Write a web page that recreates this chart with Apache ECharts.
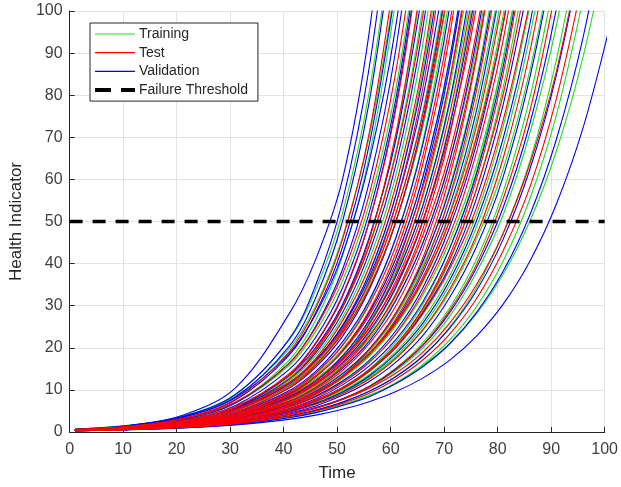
<!DOCTYPE html>
<html>
<head>
<meta charset="utf-8">
<script src="https://cdn.jsdelivr.net/npm/echarts@6/dist/echarts.min.js"></script>
<style>
html,body{margin:0;padding:0;background:#fff;}
#chart{width:621px;height:487px;}
</style>
</head>
<body>
<div id="chart"></div>
<script>
// Sample times shared by all curves (each curve stops after it passes 100)
const TIME = [1, 11, 21, 31, 41, 46, 51, 56, 61, 66, 71, 76, 81, 86, 91, 96, 101];
const X_TICKS = [0, 10, 20, 30, 40, 50, 60, 70, 80, 90, 100];
const Y_TICKS = [0, 10, 20, 30, 40, 50, 60, 70, 80, 90, 100];
const THRESHOLD = 50;

const TRAINING = [
  [0.65,1.57,3.75,9,21.8,33.8,52,80.8,125],
  [0.68,1.59,3.7,8.5,19.7,30,46.2,70.2,107],
  [0.47,1.14,2.8,6.9,17,26.6,41.8,65.5,103],
  [0.58,1.33,3,6.9,15.8,23.9,35.9,54.2,81.6,124],
  [0.42,0.99,2.32,5.4,12.8,19.5,30,45.7,70.2,108],
  [0.48,1.1,2.49,5.6,12.8,19.3,29.4,44.3,66.8,100.7,152],
  [0.47,1.06,2.39,5.4,12.1,18.2,27.2,40.9,61.1,92,137],
  [0.4,0.92,2.1,4.8,10.9,16.5,24.8,37.4,56.4,85.8,129],
  [0.52,1.12,2.42,5.2,11.2,16.5,24.1,35.2,52,76.1,112],
  [0.57,1.19,2.52,5.3,11.3,16.3,23.6,34.5,50,72.4,106],
  [0.38,0.85,1.88,4.2,9.3,13.9,20.7,30.9,46.2,68.9,103],
  [0.49,1.02,2.14,4.5,9.4,13.6,19.7,28.6,41.3,60.5,87.5,127],
  [0.42,0.89,1.88,4,8.5,12.4,18,26.4,38.6,55.8,81.6,119],
  [0.48,0.99,2.06,4.2,8.8,12.6,18,26.1,37.4,53.6,77.6,111],
  [0.35,0.76,1.62,3.5,7.4,10.9,16,23.4,34.2,50,73.1,107],
  [0.46,0.93,1.88,3.8,7.7,10.9,15.7,22.2,31.6,44.8,64.2,91.1,129],
  [0.34,0.71,1.47,3.1,6.4,9.2,13.3,19.1,27.7,40.1,58.1,83.3,121],
  [0.45,0.89,1.77,3.5,7,9.9,14,19.7,27.7,39.3,55.3,78.4,110],
  [0.38,0.77,1.56,3.1,6.3,9,12.7,18,25.6,36.3,52,73.9,105],
  [0.43,0.85,1.69,3.3,6.6,9.1,12.8,18,25.3,35.6,50,70.2,98.7,139],
  [0.43,0.83,1.62,3.2,6.1,8.6,12,16.6,23.2,32.5,45.2,63,88.5,123],
  [0.3,0.61,1.25,2.54,5.2,7.3,10.5,14.9,21.4,30.3,43.5,61.6,88.5,125],
  [0.31,0.63,1.25,2.5,5,7.1,10.1,14.3,20.3,28.6,40.5,57.5,81.6,116],
  [0.35,0.68,1.34,2.6,5.1,7,9.8,13.6,19.1,26.6,37,51.5,72.4,101],
  [0.35,0.67,1.3,2.5,4.8,6.7,9.3,13,18,25.1,34.9,48.5,67.5,93.9,129],
  [0.4,0.75,1.41,2.65,5,6.8,9.4,12.8,17.7,24.1,33.2,45.7,62.3,85.8,117],
  [0.29,0.56,1.09,2.1,4.1,5.7,7.9,10.9,15.2,21.2,29.4,40.9,56.9,79.3,110],
  [0.33,0.62,1.16,2.19,4.1,5.7,7.8,10.6,14.6,19.9,27.4,37.8,51.5,70.9,96.7,133],
  [0.29,0.55,1.04,1.96,3.7,5.1,7,9.6,13.2,18,24.8,34.2,47.1,64.2,88.5,122],
  [0.28,0.53,0.98,1.82,3.4,4.6,6.3,8.6,11.7,16,21.8,29.7,40.5,55.3,75.4,103],
  [0.35,0.63,1.14,2.04,3.6,4.9,6.5,8.7,11.6,15.7,20.9,28,37.4,50,66.8,89.3,119]
];

const TEST = [
  [0.55,1.33,3.2,7.8,19,29.4,45.7,71,111],
  [0.59,1.36,3.1,7.1,16.3,24.8,37.4,56.4,85.8,129],
  [0.43,1.03,2.44,5.8,13.8,21.2,32.5,50,76.8,118],
  [0.39,0.93,2.2,5.2,12.5,19.3,29.7,45.7,71,109],
  [0.56,1.23,2.72,6.1,13.4,19.9,29.7,44.3,66.1,98.7,147],
  [0.47,1.04,2.34,5.2,11.7,17.5,26.4,39.3,58.7,87.5,132],
  [0.4,0.9,2.04,4.6,10.5,15.8,23.9,35.9,54.2,81.6,123],
  [0.57,1.21,2.57,5.4,11.6,16.8,24.5,35.6,52,75.4,110],
  [0.52,1.11,2.37,5.1,10.9,16,23.4,34.2,50,73.1,107],
  [0.43,0.94,2.04,4.4,9.5,14,20.5,30.3,44.3,65.5,96.7,141],
  [0.37,0.82,1.81,4,8.8,13.1,19.3,28.8,42.6,63.6,93.9,140],
  [0.49,1.01,2.12,4.4,9.2,13.3,19.1,27.7,40.1,58.1,83.3,121],
  [0.33,0.73,1.6,3.5,7.8,11.6,17.2,25.6,37.8,56.4,83.3,124],
  [0.41,0.87,1.82,3.8,8.1,11.7,17,24.6,35.9,52,75.4,109],
  [0.52,1.04,2.12,4.3,8.6,12.2,17.5,24.8,35.2,50,71,100.7,143],
  [0.35,0.75,1.6,3.4,7.3,10.6,15.5,22.7,32.9,48.1,70.2,103],
  [0.46,0.94,1.92,3.9,7.9,11.3,16.2,22.9,32.5,46.6,66.2,94.8,135],
  [0.4,0.81,1.67,3.4,7.1,10.2,14.6,21,30,43.5,62.3,89.3,128],
  [0.31,0.65,1.39,2.95,6.3,9.1,13.3,19.5,28.3,41.3,60.5,88.5,128],
  [0.33,0.69,1.44,3,6.2,8.9,13,18.6,26.9,38.6,55.8,80.8,116],
  [0.44,0.87,1.72,3.4,6.7,9.4,13.2,18.6,26.1,36.7,51.5,72.4,103],
  [0.48,0.93,1.81,3.5,6.8,9.5,13.2,18.4,25.8,35.9,50,69.6,96.7,136],
  [0.37,0.74,1.48,2.95,5.9,8.3,11.7,16.5,23.4,33.2,46.6,66.2,92.9,132],
  [0.31,0.63,1.26,2.54,5.1,7.3,10.3,14.6,20.7,29.4,41.8,59.9,84.9,121],
  [0.36,0.71,1.39,2.73,5.4,7.6,10.6,14.8,20.7,29.1,40.9,57.5,80,112],
  [0.41,0.79,1.51,2.86,5.5,7.6,10.5,14.6,20.1,28,38.6,53.1,73.9,102],
  [0.34,0.67,1.27,2.46,4.7,6.6,9.1,12.6,17.5,24.3,33.8,46.6,64.9,90.2,125],
  [0.3,0.58,1.11,2.12,4.1,5.6,7.8,10.8,15.1,20.7,28.8,39.7,55.3,76.1,106],
  [0.38,0.69,1.26,2.3,4.2,5.7,7.7,10.4,14,18.9,25.8,34.9,47.1,63.6,85.8,117],
  [0.31,0.58,1.08,2,3.7,5,6.8,9.2,12.6,17.1,23.2,31.6,43,58.1,79.3,108]
];

const VALIDATION = [
  [0.6,1.5,3.9,10.5,28,41,60,95,150],
  [0.58,1.44,3.6,8.9,22,34.9,54.8,86.6,136],
  [0.56,1.38,3.4,8.3,20.3,31.9,50,78.4,123],
  [0.54,1.3,3.1,7.6,18.2,28.3,43.9,68.2,106],
  [0.67,1.54,3.5,8.1,18.6,28,42.2,64.2,96.7,147],
  [0.52,1.23,2.9,6.9,16.3,25.1,38.6,59.3,91.1,140],
  [0.51,1.18,2.7,6.3,14.8,22.5,34.2,52.1,79.3,122],
  [0.41,0.99,2.37,5.6,13.5,21,32.2,50,77.6,119],
  [0.49,1.12,2.5,5.8,13.3,20.1,30.3,46.2,69.5,105],
  [0.48,1.08,2.44,5.5,12.5,18.8,28.3,42.6,63.6,95.8,144],
  [0.46,1.03,2.3,5.1,11.4,17,25.3,37.8,56.4,84.1,125],
  [0.55,1.19,2.54,5.4,11.7,17.1,25.1,36.7,54.2,79.3,116],
  [0.45,0.98,2.16,4.7,10.4,15.4,22.7,33.8,50,73.9,110],
  [0.44,0.95,2.06,4.5,9.8,14.4,21.4,31.3,46.2,68.2,100.7,149],
  [0.42,0.91,1.96,4.2,9,13.1,19.3,28.3,41.3,60.5,88.5,129],
  [0.35,0.77,1.7,3.7,8.2,12.1,18,26.6,39.3,58.7,86.6,128],
  [0.42,0.88,1.86,3.9,8.3,12.1,17.5,25.6,37,53.7,78.4,114],
  [0.41,0.86,1.79,3.75,7.9,11.4,16.5,23.9,34.5,50,72.4,105],
  [0.4,0.82,1.7,3.5,7.3,10.5,15.1,21.6,31.3,44.8,64.2,92.9,133],
  [0.39,0.8,1.62,3.3,6.8,9.7,13.8,19.7,28.3,40.5,57.5,82.4,118],
  [0.38,0.77,1.57,3.2,6.4,9.1,13.1,18.6,26.4,37.8,53.6,76.1,109],
  [0.37,0.75,1.5,3,6,8.5,12.1,17,24.1,34.2,48.5,68.2,96.7,137],
  [0.37,0.73,1.44,2.83,5.6,7.9,11.2,15.7,22,30.9,43.5,61.1,86.6,122],
  [0.36,0.7,1.37,2.7,5.3,7.3,10.3,14.5,20.1,28.3,39.3,55.3,77.6,108],
  [0.35,0.68,1.31,2.54,4.9,6.8,9.5,13.3,18.6,25.8,35.9,50,69.6,96.7,135],
  [0.34,0.65,1.24,2.37,4.5,6.2,8.7,12,16.6,22.9,31.9,43.9,60.5,84.1,116],
  [0.33,0.62,1.18,2.21,4.2,5.8,7.9,10.8,14.9,20.5,28.3,38.9,53.2,73.1,100.7,139],
  [0.32,0.6,1.11,2.06,3.8,5.2,7.1,9.7,13.2,18,24.6,33.5,45.7,62.3,84.9,116],
  [0.31,0.57,1.03,1.88,3.4,4.6,6.3,8.4,11.5,15.5,20.9,28.3,38.1,51.5,69.6,93.9,127],
  [0.3,0.53,0.94,1.68,3,4,5.4,7.2,9.6,12.8,17,22.7,30.3,40.5,54.2,72.4,96.7]
];

const GROUPS = [
  { name: 'Training', color: '#1fdc1f', curves: TRAINING },
  { name: 'Validation', color: '#0000ff', curves: VALIDATION },
  { name: 'Test', color: '#ff0000', curves: TEST }
];

const FONT = "'Liberation Sans', Arial, Helvetica, sans-serif";
const AXIS_COLOR = '#262626';
const LABEL_COLOR = '#404040';

const series = [];
GROUPS.forEach(g => {
  g.curves.forEach(vals => {
    series.push({
      name: g.name,
      type: 'line',
      data: vals.map((v, i) => [TIME[i], v]),
      showSymbol: false,
      symbol: 'none',
      smooth: 0.35,
      clip: true,
      silent: true,
      lineStyle: { color: g.color, width: 1.1 },
      itemStyle: { color: g.color },
      emphasis: { disabled: true }
    });
  });
});
series.push({
  name: 'Failure Threshold',
  type: 'line',
  data: [[X_TICKS[0], THRESHOLD], [X_TICKS[X_TICKS.length - 1], THRESHOLD]],
  showSymbol: false,
  symbol: 'none',
  silent: true,
  lineStyle: { color: '#000', width: 3.5, type: [13, 10] },
  itemStyle: { color: '#000' },
  z: 5
});

const chart = echarts.init(document.getElementById('chart'), null, { renderer: 'canvas' });
chart.setOption({
  animation: false,
  backgroundColor: '#fff',
  textStyle: { fontFamily: FONT },
  grid: { left: 69, right: 12, top: 11, bottom: 50, containLabel: false },
  legend: {
    data: [
      { name: 'Training', lineStyle: { width: 1.2 } },
      { name: 'Test', lineStyle: { width: 1.2 } },
      { name: 'Validation', lineStyle: { width: 1.2 } },
      { name: 'Failure Threshold', lineStyle: { width: 4, type: [16, 10] } }
    ],
    orient: 'vertical',
    left: 90,
    top: 23,
    padding: [4, 10, 4, 3],
    itemWidth: 40,
    itemHeight: 14,
    itemGap: 4.7,
    itemStyle: { opacity: 0 },
    backgroundColor: '#fff',
    borderColor: AXIS_COLOR,
    borderWidth: 1,
    borderRadius: 0,
    textStyle: { fontFamily: FONT, fontSize: 14, color: '#262626', lineHeight: 14, padding: [0, 0, 0, -1] },
    selectedMode: false
  },
  xAxis: {
    type: 'value',
    min: X_TICKS[0],
    max: X_TICKS[X_TICKS.length - 1],
    interval: 10,
    name: 'Time',
    nameLocation: 'middle',
    nameGap: 33,
    nameTextStyle: { fontFamily: FONT, fontSize: 17, color: '#262626' },
    axisLine: { show: true, onZero: false, lineStyle: { color: AXIS_COLOR, width: 1 } },
    axisTick: { show: true, inside: true, length: 5, lineStyle: { color: AXIS_COLOR } },
    axisLabel: { fontFamily: FONT, fontSize: 16, color: LABEL_COLOR, margin: 10 },
    splitLine: { show: true, lineStyle: { color: '#e3e3e3', width: 1 } }
  },
  yAxis: {
    type: 'value',
    min: Y_TICKS[0],
    max: Y_TICKS[Y_TICKS.length - 1],
    interval: 10,
    name: 'Health Indicator',
    nameLocation: 'middle',
    nameGap: 39,
    nameTextStyle: { fontFamily: FONT, fontSize: 17, color: '#262626' },
    axisLine: { show: true, onZero: false, lineStyle: { color: AXIS_COLOR, width: 1 } },
    axisTick: { show: true, inside: true, length: 5, lineStyle: { color: AXIS_COLOR } },
    axisLabel: { fontFamily: FONT, fontSize: 16, color: LABEL_COLOR, margin: 7 },
    splitLine: { show: true, lineStyle: { color: '#e3e3e3', width: 1 } }
  },
  series: series
});
</script>
</body>
</html>
